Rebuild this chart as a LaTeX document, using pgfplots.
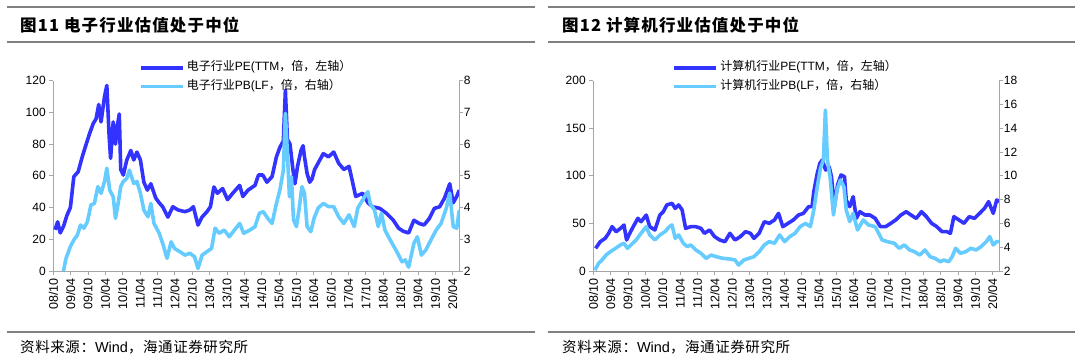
\documentclass[border=0pt]{standalone}
\usepackage{fontspec}
\setmainfont{Liberation Sans}
\newfontfamily\cjk{Noto Sans CJK SC}
\newfontfamily\cjktitle[LetterSpace=7]{Noto Sans CJK SC}
\newfontfamily\cjksrc[LetterSpace=4]{Noto Sans CJK SC}
\usepackage{pgfplots}
\pgfplotsset{compat=1.18}
\definecolor{peblue}{RGB}{51,51,255}
\definecolor{pbblue}{RGB}{102,204,255}
\definecolor{axgray}{RGB}{166,166,166}
\definecolor{rulegray}{RGB}{128,128,128}
\pgfplotsset{
 panel/.style={scale only axis, width=406pt, height=190.3pt, xmin=0, xmax=140.3,
  axis line style={draw=axgray, line width=0.8pt},
  tick style={draw=axgray, line width=0.8pt}, major tick length=4pt, tick align=outside,
  ticklabel style={font=\fontsize{12}{14}\selectfont},
  /pgf/number format/assume math mode=true},
 prim/.style={panel, axis x line*=bottom, axis y line*=left,
  xtick={0,6,...,138},
  xticklabels={08/10,09/04,09/10,10/04,10/10,11/04,11/10,12/04,12/10,13/04,13/10,14/04,14/10,15/04,15/10,16/04,16/10,17/04,17/10,18/04,18/10,19/04,19/10,20/04},
  x tick label style={rotate=90, anchor=east, font=\fontsize{12.5}{14}\selectfont}},
 sec/.style={panel, axis y line*=right, axis x line=none, xtick=\empty,
  yticklabel style={xshift=-3pt},
  legend style={draw=none, fill=none, anchor=west, row sep=2.7pt, inner sep=0pt,
    cells={anchor=west}, nodes={inner sep=2pt, text height=9pt, text depth=3pt},
    font=\fontsize{12}{14}\selectfont},
  legend image code/.code={\draw[##1] (0pt,0pt) -- (42pt,0pt);}},
 pe/.style={peblue, line width=3.6pt, line join=round},
 pb/.style={pbblue, line width=3.6pt, line join=round},
}
\begin{document}
\begin{tikzpicture}
\path[use as bounding box] (0,0) rectangle (1080pt,363pt);
% rules and titles
\draw[rulegray, line width=1.2pt] (7pt,356pt) -- (535pt,356pt);
\draw[rulegray, line width=1.2pt] (7pt,321pt) -- (535pt,321pt);
\draw[rulegray, line width=1.2pt] (7pt,31pt) -- (535pt,31pt);
\draw[rulegray, line width=1.2pt] (548pt,356pt) -- (1075pt,356pt);
\draw[rulegray, line width=1.2pt] (548pt,321pt) -- (1075pt,321pt);
\draw[rulegray, line width=1.2pt] (548pt,31pt) -- (1075pt,31pt);
\node[anchor=west, inner sep=0pt] at (20pt,338pt) {\cjktitle\bfseries\fontsize{16.5}{17}\selectfont 图11 电子行业估值处于中位};
\node[anchor=west, inner sep=0pt] at (562pt,338pt) {\cjktitle\bfseries\fontsize{16.5}{17}\selectfont 图12 计算机行业估值处于中位};
\node[anchor=west, inner sep=0pt] at (20pt,16pt) {\fontsize{14.5}{16}\selectfont{\cjksrc 资料来源：}Wind{\cjksrc ，海通证券研究所}};
\node[anchor=west, inner sep=0pt] at (562pt,16pt) {\fontsize{14.5}{16}\selectfont{\cjksrc 资料来源：}Wind{\cjksrc ，海通证券研究所}};

% ---------------- left panel ----------------
\begin{axis}[prim, at={(53.3pt,92pt)}, anchor=south west, ymin=0, ymax=120, ytick={0,20,...,120}]
\addplot[pe] coordinates {
(0.6,26) (1.5,31) (2.4,24) (3.5,28) (4.7,35) (5.9,40) (7.1,59.5) (8.6,62.6) (10,72) (11.2,79)
(12.6,87) (13.8,93) (14.8,96) (15.7,105) (16.5,94) (17.7,110) (18.5,117) (19.3,85) (19.8,71) (20.7,94)
(21.5,80) (22.1,91) (22.8,99) (23.3,64) (24.2,60.5) (25.4,70) (26.8,76) (27.8,70) (28.9,75) (30.1,70)
(31.3,56) (32.5,51) (33.7,55) (35.4,46) (36.6,43) (37.8,40.5) (39.6,34) (41.3,40.5) (43.1,38.5) (45.5,37.4)
(47.2,38.5) (48.4,40.5) (50,29) (51.4,34) (53.1,37.4) (54.3,40.5) (55.5,53) (56.7,49) (58.5,52) (60.2,45)
(62,49) (64.4,54) (65.5,47) (67.3,51) (69.7,54) (70.9,60.5) (72.4,60.5) (73.8,56) (75.6,59.5) (77.1,72)
(78.3,78) (79.5,82) (80.2,114) (80.9,83) (81.8,80) (82.8,64) (83.5,55) (84.4,66) (85.6,76) (86.3,79)
(86.8,72) (87.7,61.5) (88.6,56) (89.4,58) (90.3,64) (92.1,70) (93.3,74) (95.1,72) (96.9,75) (98.6,68)
(100.4,64) (102.2,66) (103.3,57) (104.5,47) (106.9,49) (108.7,43) (110.4,40.5) (112.8,39.5) (115.1,36.4) (117.5,32)
(119.3,27) (121,25) (122.8,24) (124.6,32) (126.4,30) (128.1,29) (129.9,33) (131.7,39.5) (133.5,40.5) (135.2,46)
(137,55) (138.2,43) (139.4,47) (140.3,51)
};
\end{axis}
\begin{axis}[sec, at={(53.3pt,92pt)}, anchor=south west, ymin=2, ymax=8, ytick={2,...,8},
  legend style={at={(0.211,1.019)}}]
\addlegendimage{pe}
\addlegendentry{{\cjk 电子行业}PE(TTM{\cjk ，倍，左轴）}}
\addplot[pb] coordinates {
(3.5,2.0) (4.4,2.4) (5.9,2.77) (7.1,2.98) (8.3,3.13) (9.4,3.45) (10.6,3.35) (11.8,3.56) (13,4.08) (14.2,4.13)
(15.4,4.66) (16.5,4.45) (17.7,4.82) (18.5,5.24) (19.5,4.55) (20.7,4.34) (21.5,3.66) (22.4,4.13) (23.3,4.66) (24.2,4.82)
(25.4,4.92) (26.3,5.18) (27.8,4.76) (28.9,4.82) (30.1,4.45) (31.3,3.92) (32.7,3.71) (33.7,4.13) (34.8,3.5) (36.6,3.19)
(37.8,2.87) (39.3,2.4) (40.7,2.92) (41.9,2.71) (43.7,2.61) (45.5,2.5) (47.2,2.56) (48.8,2.45) (50,2.08) (51.4,2.5)
(53.1,2.61) (54.7,2.71) (55.9,3.35) (57.3,3.19) (59.1,3.29) (60.8,3.08) (62.6,3.29) (64.4,3.5) (65.8,3.19) (67.9,3.29)
(69.7,3.4) (71.2,3.82) (72.6,3.87) (74.1,3.66) (75.6,3.5) (77.1,4.13) (78.3,4.55) (79.5,5.18) (80.2,6.97) (80.9,5.71)
(81.6,4.34) (82.3,4.97) (83,3.61) (84,3.4) (84.9,3.92) (85.9,4.66) (86.8,4.45) (87.7,3.4) (89,3.24) (90.1,3.66)
(91.5,3.98) (93.3,4.13) (95.1,4.03) (96.9,4.03) (98.6,3.71) (100.4,3.5) (102.2,3.77) (104,3.4) (105.2,3.98) (106.9,4.24)
(108.7,4.5) (109.5,4.13) (111,3.92) (112.3,3.4) (113.4,3.82) (114.6,3.29) (116.4,2.98) (118.7,2.61) (120.5,2.29) (121.6,2.35)
(122.8,2.12) (124.6,2.87) (125.8,3.08) (127.2,2.5) (128.7,2.66) (130.5,2.98) (132.3,3.29) (134,3.5) (135.8,3.98) (137,4.45)
(138.2,3.4) (139.4,3.35) (140.3,3.92)
};
\addlegendentry{{\cjk 电子行业}PB(LF{\cjk ，倍，右轴）}}
\end{axis}

% ---------------- right panel ----------------
\begin{axis}[prim, at={(593.3pt,92pt)}, anchor=south west, ymin=0, ymax=200, ytick={0,50,...,200}]
\addplot[pe] coordinates {
(0.8,23.8) (2.4,30.8) (4.1,34.3) (5.3,39.6) (6.5,46.6) (7.9,41.3) (9.4,44.8) (10.6,48.3) (11.5,32.6) (12.6,39.6)
(13.8,46.6) (15.4,55.3) (16.5,51.8) (18.3,58.8) (19.5,46.6) (21.3,43.1) (23,58.8) (24.2,62.3) (25.4,69.4) (27.2,71.1)
(28.3,65.8) (29.5,69.4) (30.7,64.1) (31.9,44.8) (33.7,46.6) (35.4,46.6) (37.2,44.8) (38.4,39.6) (40.2,43.1) (41.9,36.1)
(43.7,32.6) (45.5,30.8) (47.2,39.6) (49,32.6) (50.8,36.1) (52.6,41.3) (54.3,39.6) (55.5,34.3) (57.3,39.6) (59.1,51.8)
(60.8,50.1) (62.6,53.6) (64,60.6) (65.5,46.6) (67.3,50.1) (69.1,53.6) (70.9,58.8) (72.6,60.6) (74.4,67.6) (75.6,67.6)
(76.2,83.4) (77.4,102.6) (78.3,113.1) (79.1,116.6) (80.3,106.1) (81.5,109.6) (82.3,99.1) (83.3,67.6) (84.4,90.4) (85.6,100.9)
(86.8,99.1) (87.4,74.6) (88.6,67.6) (89.8,78.1) (90.9,55.3) (92.1,62.3) (93.9,58.8) (95.6,58.8) (97.4,55.3) (99.2,46.6)
(101,46.6) (102.8,50.1) (104.5,53.6) (106.3,58.8) (108.1,62.3) (109.8,58.8) (111.6,55.3) (113.4,62.3) (115.1,57.1) (116.9,50.1)
(118.7,46.6) (120.5,41.3) (122.2,41.3) (123.4,39.6) (124.6,57.1) (126.4,53.6) (128.1,50.1) (129.9,57.1) (131.7,55.3) (133.5,60.6)
(135.2,65.8) (136.6,72.9) (138.2,60.6) (139.4,74.6) (140.3,72.9)
};
\end{axis}
\begin{axis}[sec, at={(593.3pt,92pt)}, anchor=south west, ymin=2, ymax=18, ytick={2,4,...,18},
  legend style={at={(0.195,1.019)}}]
\addlegendimage{pe}
\addlegendentry{{\cjk 计算机行业}PE(TTM{\cjk ，倍，左轴）}}
\addplot[pb] coordinates {
(0.6,2.08) (1.8,2.64) (3,2.92) (4.4,3.34) (5.9,3.62) (7.7,3.91) (9.4,4.19) (10.6,4.33) (11.8,3.91) (13,4.19)
(14.8,4.61) (16.5,5.17) (18.3,5.73) (19.5,5.03) (21.3,4.61) (23,5.03) (24.8,5.31) (26.3,5.73) (27.2,5.87) (28.3,4.75)
(29.5,5.03) (31.1,4.33) (32.5,4.05) (33.7,4.19) (35.4,3.77) (37.2,3.49) (39,3.06) (40.7,3.34) (42.5,3.2) (44.9,3.06)
(47.2,3.01) (49,2.92) (50.2,2.5) (52,2.92) (53.7,3.06) (55.5,3.2) (57.3,3.62) (59.1,4.19) (60.8,4.47) (62.6,4.33)
(64.4,5.03) (66.1,4.47) (67.9,4.89) (69.7,5.17) (71.5,5.73) (73.3,6.0) (75,5.73) (76.2,7.13) (77.4,9.09) (78.5,10.63)
(79.5,11.33) (80.2,15.53) (80.9,11.33) (81.8,9.93) (83,6.71) (84.2,8.81) (85.4,9.65) (86.6,9.09) (87.4,7.13) (88.6,6.15)
(89.8,6.85) (91.3,5.45) (93.3,6.29) (95.1,5.87) (97.4,5.73) (99.8,4.61) (101.6,4.47) (104,4.33) (105.7,3.91) (107.5,4.19)
(109.3,3.77) (111,3.62) (112.8,3.34) (114.6,3.77) (116.4,3.2) (118.1,3.06) (119.9,2.78) (121.1,2.92) (122.8,2.78) (124,3.2)
(125.2,3.91) (126.9,3.49) (128.7,3.62) (130.5,3.91) (132.3,3.77) (134,4.05) (135.8,4.47) (137,4.89) (138.2,4.19) (139.4,4.47)
(140.3,4.47)
};
\addlegendentry{{\cjk 计算机行业}PB(LF{\cjk ，倍，右轴）}}
\end{axis}
\end{tikzpicture}
\end{document}
